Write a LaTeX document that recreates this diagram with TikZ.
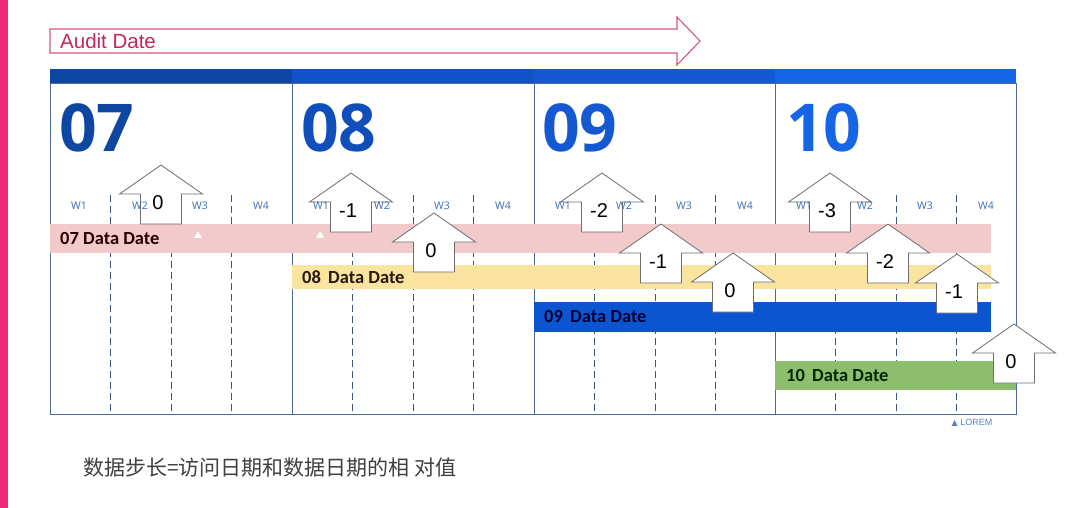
\documentclass[tikz,border=0pt]{standalone}
\usepackage{fontspec}
\setmainfont{Liberation Sans}
\newfontfamily\numfont{Open Sans}
\newfontfamily\barfont{Carlito}
\newfontfamily\symfont{DejaVu Sans}
\newfontfamily\cjk{Noto Sans CJK SC}

\definecolor{sidepink}{HTML}{EE2A7B}
\definecolor{auditred}{HTML}{D4557A}
\definecolor{audittext}{HTML}{C8245E}
\definecolor{head07}{HTML}{0E47A1}
\definecolor{head08}{HTML}{1152C6}
\definecolor{head09}{HTML}{1458D2}
\definecolor{head10}{HTML}{1565E6}
\definecolor{gridblue}{HTML}{4A6A9A}
\definecolor{weekblue}{HTML}{3A6AB8}
\definecolor{bar07}{HTML}{F2CACB}
\definecolor{bar08}{HTML}{FBE3A0}
\definecolor{bar09}{HTML}{0B55D0}
\definecolor{bar10}{HTML}{8DBE6E}
\definecolor{arrowgray}{HTML}{6E6E6E}

\tikzset{
  boxline/.style={draw=gridblue, line width=0.9pt},
  weekline/.style={draw=gridblue!80!black, line width=0.8pt, dash pattern=on 7pt off 4pt},
  monthnum/.style={anchor=west, inner sep=0pt, font=\numfont\bfseries\fontsize{66}{66}\selectfont},
  weeklabel/.style={inner sep=0pt, text=weekblue, font=\numfont\fontsize{10.5}{11}\selectfont},
  datelabel/.style={anchor=west, inner sep=0pt, font=\barfont\bfseries\fontsize{18.5}{19}\selectfont},
  steparrow/.style={draw=arrowgray, fill=white, line width=0.8pt, line join=miter},
  steplabel/.style={inner sep=0pt, font=\fontsize{20}{20}\selectfont}
}

\begin{document}
\begin{tikzpicture}[x=1pt,y=-1pt]
  \useasboundingbox (0,0) rectangle (1080,508);
  \fill[white] (0,0) rectangle (1080,508);
  \fill[sidepink] (0,0) rectangle (8,508);

  % audit date arrow
  \draw[auditred, line width=1.1pt, fill=white] (50,29) -- (677,29) -- (677,17) -- (700,41)
    -- (677,65) -- (677,53) -- (50,53) -- cycle;
  \node[anchor=west, inner sep=0pt, text=audittext, font=\fontsize{20.5}{21}\selectfont]
    (audit) at (60,41) {Audit Date};

  % month header
  \fill[head07] (50,69) rectangle (292,83);
  \fill[head08] (292,69) rectangle (534,83);
  \fill[head09] (534,69) rectangle (775,83);
  \fill[head10] (775,69) rectangle (1016,83);
  \node[monthnum, text=head07] (m07) at (59,128) {07};
  \node[monthnum, text=head08!95!black] (m08) at (301,128) {08};
  \node[monthnum, text=head09] (m09) at (542,128) {09};
  \node[monthnum, text=head10] (m10) at (786,128) {10};

  % week grid
  \foreach \c in {50,292,534,775}
    \foreach \k in {1,2,3}
      \draw[weekline] (\c+60.5*\k,195) -- (\c+60.5*\k,414);
  \foreach \c in {292,534,775}
    \draw[boxline] (\c,83) -- (\c,414);
  \draw[boxline] (50,83) rectangle (1016,414);

  % data date bars
  \fill[bar07] (50,224) rectangle (991,253);
  \fill[bar08] (292,265) rectangle (991,289);
  \fill[bar09] (534,302) rectangle (991,332);
  \fill[bar10] (775,361) rectangle (1016,390);
  \node[datelabel, text=black!85!red] (d07) at (60,239) {07 Data Date};
  \node[datelabel, text=black!80!brown] (d08) at (302,277) {08\, Data Date};
  \node[datelabel, text=black!80!blue] (d09) at (544,317) {09\, Data Date};
  \node[datelabel, text=black!85!green] (d10) at (786,376) {10\, Data Date};
  \fill[white] (198,231) -- (202,238) -- (194,238) -- cycle;
  \fill[white] (320,231) -- (324,238) -- (316,238) -- cycle;

  % step arrows
  \foreach \x/\y/\v [count=\i] in {161/165/0, 351/173/-1, 434/213/0, 602/173/-2, 661/224/-1,
      733/253/0, 830/173/-3, 888/224/-2, 957/254/-1, 1014/324/0} {
    \draw[steparrow] (\x,\y) -- ++(41.5,29) -- ++(-21,0) -- ++(0,30) -- ++(-41,0)
      -- ++(0,-30) -- ++(-21,0) -- cycle;
    \node[steplabel] (v\i) at (\x-3,\y+38) {\v};
  }

  % week labels
  \foreach \c in {50,292,534,775}
    \foreach \o/\w in {29/W1,90/W2,150/W3,211/W4}
      \node[weeklabel] (\w at \c) at (\c+\o,206) {\w};

  \node[inner sep=0pt, text=weekblue!85, font=\fontsize{9}{9}\selectfont] (lorem) at (972,423)
    {{\symfont\fontsize{8}{8}\selectfont ▲} LOREM};

  \node[anchor=west, inner sep=0pt, text=black!75, font=\cjk\fontsize{21}{21}\selectfont]
    (note) at (83,468) {数据步长=访问日期和数据日期的相 对值};
\end{tikzpicture}
\end{document}
